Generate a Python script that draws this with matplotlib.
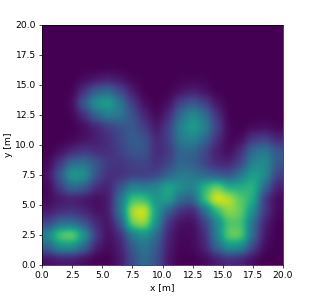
import numpy as np
import matplotlib
matplotlib.use('Agg')
import matplotlib.pyplot as plt

# rows run from y = 19.5 (top) down to y = 0.5, columns from x = 0.5 to 19.5
row_top = [[0.0] * 20 for _ in range(4)]
row_15 = [0, 0, 0, .02, .05, .08, .05, .01, 0, 0, 0, .01, .01, .01, 0, 0, 0, 0, 0, 0]
row_14 = [0, 0, 0, .14, .3, .35, .22, .07, 0, 0, 0, .04, .08, .04, 0, 0, 0, 0, 0, 0]
row_13 = [0, 0, .02, .3, .54, .6, .4, .17, .03, 0, .03, .2, .28, .19, .05, 0, 0, 0, 0, 0]
row_12 = [0, 0, .01, .12, .32, .43, .41, .26, .1, .01, .1, .36, .5, .38, .14, 0, 0, 0, 0, 0]
row_11 = [0, 0, 0, .03, .09, .17, .24, .28, .18, .05, .18, .45, .58, .46, .2, .01, 0, .02, .03, .01]
row_10 = [0, 0, .01, .04, .08, .13, .21, .3, .27, .1, .19, .42, .47, .34, .14, .01, .02, .16, .2, .1]
row_9 = [0, .03, .1, .16, .12, .13, .19, .27, .27, .11, .15, .33, .33, .21, .08, .02, .12, .36, .42, .27]
row_8 = [.01, .16, .36, .38, .27, .16, .15, .19, .21, .13, .2, .33, .3, .2, .11, .09, .2, .45, .5, .27]
row_7 = [.04, .28, .58, .54, .25, .13, .13, .17, .17, .2, .32, .42, .4, .33, .28, .24, .4, .58, .5, .18]
row_6 = [.01, .18, .36, .29, .12, .09, .26, .45, .42, .47, .62, .5, .43, .66, .82, .62, .62, .68, .33, .08]
row_5 = [.02, .06, .07, .05, .03, .06, .38, .72, .7, .5, .6, .33, .3, .72, 1.0, .92, .74, .64, .14, .02]
row_4 = [.06, .12, .14, .1, .04, .06, .38, .92, .98, .55, .28, .13, .08, .33, .66, .85, .78, .5, .16, .02]
row_3 = [.2, .35, .36, .26, .11, .04, .24, .82, .88, .5, .13, .04, .03, .17, .45, .72, .72, .36, .08, 0]
row_2 = [.47, .78, .85, .56, .17, .03, .11, .4, .5, .34, .09, .02, .02, .11, .43, .8, .8, .34, .05, 0]
row_1 = [.3, .5, .5, .33, .08, .02, .08, .28, .4, .28, .07, .01, .02, .09, .32, .52, .48, .2, .02, 0]
row_0 = [.04, .06, .06, .03, 0, 0, .06, .23, .36, .25, .05, 0, 0, .02, .07, .12, .09, .03, 0, 0]

ticks = [0, 2.5, 5, 7.5, 10, 12.5, 15, 17.5, 20]
tick_labels = ['0.0', '2.5', '5.0', '7.5', '10.0', '12.5', '15.0', '17.5', '20.0']

grid = np.array(row_top + [row_15, row_14, row_13, row_12, row_11, row_10, row_9, row_8,
                           row_7, row_6, row_5, row_4, row_3, row_2, row_1, row_0])

fig = plt.figure(figsize=(3.15, 3.0), dpi=100)
ax = fig.add_axes([42 / 315, 35 / 300, 241 / 315, 240 / 300])
ax.imshow(grid, cmap='viridis', vmin=0, vmax=1, extent=[0, 20, 0, 20],
          interpolation='gaussian', aspect='auto')
ax.set_xticks(ticks, tick_labels)
ax.set_yticks(ticks, tick_labels)
ax.tick_params(labelsize=6.6, length=2.5, width=0.5, pad=2)
for s in ax.spines.values():
    s.set_linewidth(0.5)
ax.set_xlabel('x [m]', fontsize=6.6, labelpad=2)
ax.set_ylabel('y [m]', fontsize=6.6, labelpad=1.5)

fig.savefig('out.png', dpi=100)
